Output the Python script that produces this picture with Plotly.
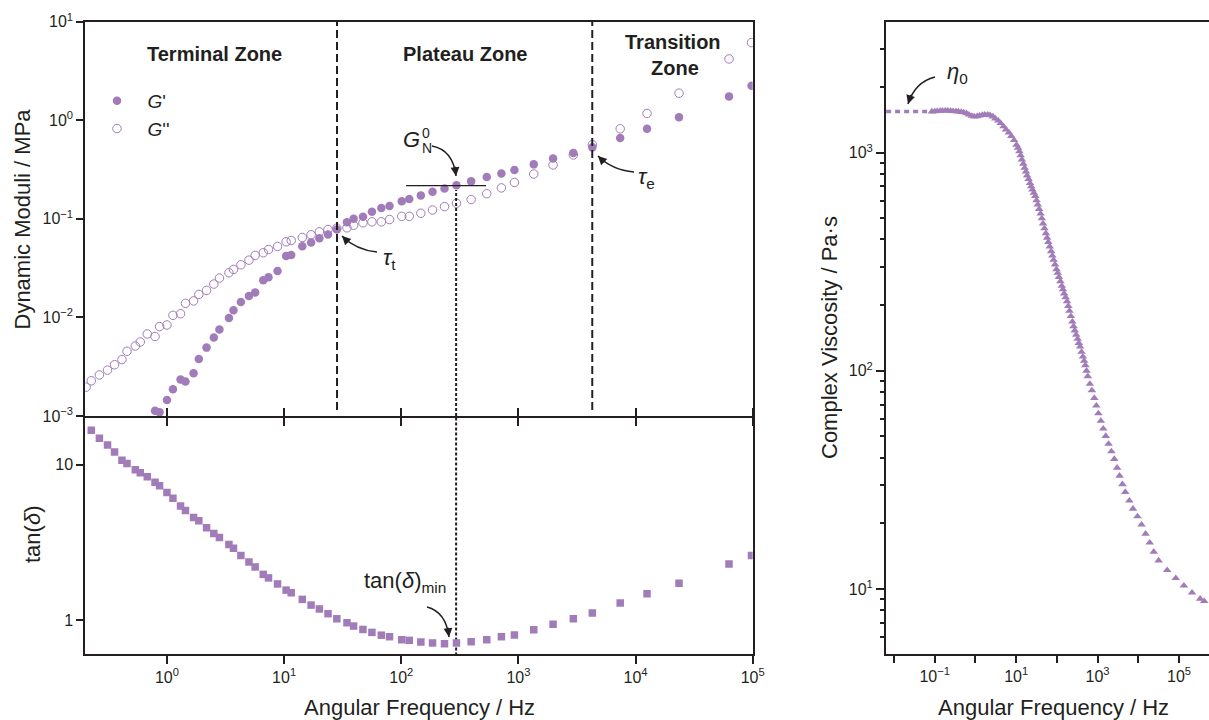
import plotly.graph_objects as go

# ---------------- data ----------------
freq_moduli = [0.204, 0.226, 0.265, 0.311, 0.357, 0.413, 0.456, 0.537, 0.592, 0.679,
               0.791, 0.865, 1.0, 1.125, 1.306, 1.439, 1.687, 1.871, 2.178, 2.512,
               2.805, 3.381, 3.698, 4.276, 5.012, 5.662, 6.637, 7.362, 8.79, 10.4,
               11.5, 14.3, 17.0, 20.0, 23.7, 28.2, 34.4, 39.2, 47.1, 56.2,
               67.6, 79.4, 101, 117, 147, 185, 234, 296, 395, 537,
               716, 925, 1352, 1977, 2944, 4276, 7396, 12530, 23500, 62800, 97700]

g_storage = [None, None, None, None, None, None, None, None, None, None,
             0.00113, 0.00109, 0.00145, 0.00187, 0.00234, 0.00224, 0.00272, 0.00379, 0.00494, 0.00624,
             0.00753, 0.00986, 0.0118, 0.0143, 0.0165, 0.0179, 0.0238, 0.0256, 0.0295, 0.0419,
             0.0429, 0.0528, 0.0575, 0.0637, 0.0693, 0.0780, 0.0925, 0.100, 0.105, 0.118,
             0.129, 0.135, 0.151, 0.159, 0.173, 0.188, 0.203, 0.219, 0.240, 0.266,
             0.288, 0.313, 0.357, 0.410, 0.466, 0.531, 0.661, 0.820, 1.076, 1.742, 2.234]

g_loss = [0.00196, 0.00228, 0.00261, 0.00292, 0.00331, 0.00374, 0.00454, 0.00513, 0.00564, 0.00679,
          0.00640, 0.00807, 0.00838, 0.0105, 0.0109, 0.0139, 0.0147, 0.0171, 0.0188, 0.0218,
          0.0251, 0.0284, 0.0307, 0.0342, 0.0381, 0.0426, 0.0453, 0.0489, 0.0525, 0.0585,
          0.0603, 0.0647, 0.0689, 0.0738, 0.0780, 0.0804, 0.0811, 0.0861, 0.0912, 0.0933,
          0.0933, 0.0984, 0.106, 0.106, 0.114, 0.123, 0.133, 0.144, 0.157, 0.180,
          0.206, 0.234, 0.285, 0.352, 0.445, 0.565, 0.820, 1.172, 1.884, 4.188, 6.138]

tan_delta = [None, 16.7, 14.8, 13.4, 12.1, 10.7, 10.2, 9.29, 8.89, 8.38,
             7.71, 7.33, 6.64, 6.08, 5.43, 5.07, 4.57, 4.36, 3.93, 3.61,
             3.40, 3.07, 2.90, 2.61, 2.37, 2.20, 1.97, 1.87, 1.71, 1.56,
             1.50, 1.36, 1.25, 1.18, 1.10, 1.02, 0.962, 0.916, 0.871, 0.834,
             0.800, 0.782, 0.748, 0.741, 0.723, 0.713, 0.705, 0.713, 0.726, 0.748,
             0.782, 0.802, 0.867, 0.942, 1.02, 1.11, 1.29, 1.48, 1.73, 2.30, 2.61]

freq_eta = [0.0851, 0.100, 0.115, 0.135, 0.155, 0.182, 0.209, 0.245, 0.282, 0.331,
            0.380, 0.447, 0.513, 0.603, 0.692, 0.813, 0.933, 1.10, 1.26, 1.48,
            1.70, 2.00, 2.29, 2.69, 3.09, 3.63, 4.17, 4.90, 5.62, 6.61,
            7.59, 8.91, 10.2, 11.1, 12.0, 12.9, 13.8, 15.0, 16.2, 17.4,
            18.6, 20.2, 21.9, 23.4, 25.1, 27.2, 29.5, 31.6, 33.9, 36.7,
            39.8, 42.7, 45.7, 49.5, 53.7, 57.5, 61.7, 66.8, 72.4, 77.6,
            83.2, 90.2, 97.7, 105, 112, 122, 132, 141, 151, 164,
            178, 191, 204, 221, 240, 257, 275, 299, 324, 347,
            372, 403, 437, 468, 501, 537, 575, 646, 724, 832,
            933, 1047, 1202, 1380, 1585, 1862, 2188, 2570, 3020, 3467,
            4074, 4786, 6026, 7413, 9550, 12000, 15100, 19100, 24000, 31600,
            51300, 83200, 132000, 209000, 331000, 417000]

eta_complex = [1542, 1545, 1549, 1552, 1556, 1556, 1556, 1552, 1549, 1545,
               1542, 1535, 1528, 1514, 1493, 1472, 1462, 1466, 1476, 1486,
               1493, 1493, 1483, 1462, 1432, 1400, 1365, 1318, 1276, 1236,
               1191, 1140, 1084, 1050, 1012, 971, 929, 889, 851, 818,
               785, 755, 724, 700, 676, 653, 631, 604, 578, 551,
               525, 499, 473, 449, 427, 407, 389, 371, 353, 337,
               322, 307, 292, 281, 269, 257, 245, 236, 226, 217,
               208, 198, 188, 178, 168, 160, 153, 146, 140, 134,
               129, 122, 116, 111, 106, 100, 94.4, 87.1, 81.3, 75.0,
               69.2, 63.8, 58.9, 54.3, 50.2, 46.2, 42.7, 39.4, 35.9, 33.0,
               30.2, 27.8, 25.4, 23.3, 21.5, 19.7, 17.9, 16.3, 14.8, 13.5,
               12.2, 11.2, 10.35, 9.62, 9.02, 8.79]

# reference quantities marked on the chart
tau_t_freq = 28.3
tau_e_freq = 4270
gn0_freq = 294
gn0_value = 0.217
gn0_line_freq = [110, 530]
eta0_value = 1542
eta0_line_freq = [0.0064, 0.0851]

# tick labels
left_x_ticks = [1, 10, 100, 1000, 10000, 100000]
left_x_text = ["10<sup>0</sup>", "10<sup>1</sup>", "10<sup>2</sup>", "10<sup>3</sup>",
               "10<sup>4</sup>", "10<sup>5</sup>"]
mod_y_ticks = [0.001, 0.01, 0.1, 1, 10]
mod_y_text = ["10<sup>−3</sup>", "10<sup>−2</sup>", "10<sup>−1</sup>", "10<sup>0</sup>", "10<sup>1</sup>"]
tan_y_ticks = [1, 10]
tan_y_text = ["1", "10"]
eta_x_ticks = [0.01, 0.1, 1, 10, 100, 1000, 10000, 100000]
eta_x_text = ["", "10<sup>−1</sup>", "", "10<sup>1</sup>", "", "10<sup>3</sup>", "", "10<sup>5</sup>"]
eta_y_ticks = [10, 100, 1000]
eta_y_text = ["10<sup>1</sup>", "10<sup>2</sup>", "10<sup>3</sup>"]
eta_y_minor = [6, 7, 8, 9, 20, 30, 40, 50, 60, 70, 80, 90,
               200, 300, 400, 500, 600, 700, 800, 900, 2000, 3000]

# ---------------- styling ----------------
W, H = 1209, 720
def px(x):
    return x / W
def py(y):
    return 1 - y / H

PURPLE = "#a17cb9"
INK = "#231f20"
FONT = "Liberation Sans, Arial, Helvetica, sans-serif"
NB = "\u00a0"

fig = go.Figure()

# top-left: dynamic moduli
fig.add_trace(go.Scatter(x=freq_moduli, y=g_storage, mode="markers", name=NB * 2 + "<i>G</i>'",
                         marker=dict(symbol="circle", size=8.5, color=PURPLE),
                         xaxis="x", yaxis="y"))
fig.add_trace(go.Scatter(x=freq_moduli, y=g_loss, mode="markers", name=NB * 2 + "<i>G</i>''",
                         marker=dict(symbol="circle-open", size=8.5, color=PURPLE,
                                     line=dict(width=1.0, color=PURPLE)),
                         xaxis="x", yaxis="y"))

# reference lines (top)
for f in (tau_t_freq, tau_e_freq):
    fig.add_trace(go.Scatter(x=[f, f], y=[0.00115, 10], mode="lines", showlegend=False,
                             line=dict(color=INK, width=2, dash="8px,4px"),
                             xaxis="x", yaxis="y", hoverinfo="skip"))
fig.add_trace(go.Scatter(x=[gn0_freq, gn0_freq], y=[0.001, 0.196], mode="lines", showlegend=False,
                         line=dict(color=INK, width=2, dash="3px,2px"),
                         xaxis="x", yaxis="y", hoverinfo="skip"))
fig.add_trace(go.Scatter(x=gn0_line_freq, y=[gn0_value, gn0_value], mode="lines", showlegend=False,
                         line=dict(color=INK, width=1.2),
                         xaxis="x", yaxis="y", hoverinfo="skip"))

# bottom-left: tan delta
fig.add_trace(go.Scatter(x=[gn0_freq, gn0_freq], y=[0.55, 25], mode="lines", showlegend=False,
                         line=dict(color=INK, width=2, dash="3px,2px"),
                         xaxis="x2", yaxis="y2", hoverinfo="skip"))
fig.add_trace(go.Scatter(x=freq_moduli, y=tan_delta, mode="markers", showlegend=False,
                         marker=dict(symbol="square", size=7.5, color=PURPLE),
                         xaxis="x2", yaxis="y2"))

# right: complex viscosity
fig.add_trace(go.Scatter(x=eta0_line_freq, y=[eta0_value, eta0_value], mode="lines", showlegend=False,
                         line=dict(color=PURPLE, width=3.5, dash="5px,4px"),
                         xaxis="x3", yaxis="y3", hoverinfo="skip"))
fig.add_trace(go.Scatter(x=freq_eta, y=eta_complex, mode="markers", showlegend=False,
                         marker=dict(symbol="triangle-up", size=7.5, color=PURPLE),
                         xaxis="x3", yaxis="y3"))

axis_common = dict(type="log", showgrid=False, zeroline=False, showline=True,
                   linecolor=INK, linewidth=2, tickcolor=INK, tickwidth=2,
                   ticks="outside", automargin=False,
                   tickfont=dict(family=FONT, size=16, color=INK))

LX = [px(85.3), px(752.7)]
RX = [px(886), 1.0]
TOPY = [py(416), py(21.7)]
BOTY = [py(654), py(418)]

fig.update_layout(
    xaxis=dict(axis_common, domain=LX, anchor="y", range=[-0.697, 5.0],
               tickmode="array", tickvals=left_x_ticks, showticklabels=False,
               ticklen=8, mirror=True),
    yaxis=dict(axis_common, domain=TOPY, anchor="x", range=[-3, 1],
               tickmode="array", tickvals=mod_y_ticks, ticktext=mod_y_text,
               ticklen=7, mirror=True),
    xaxis2=dict(axis_common, domain=LX, anchor="y2", range=[-0.697, 5.0],
                tickmode="array", tickvals=left_x_ticks, ticktext=left_x_text,
                ticklen=8, mirror="ticks"),
    yaxis2=dict(axis_common, domain=BOTY, anchor="x2", range=[-0.218, 1.301],
                tickmode="array", tickvals=tan_y_ticks, ticktext=tan_y_text,
                ticklen=7, mirror=True),
    xaxis3=dict(axis_common, domain=RX, anchor="y3", range=[-2.197, 5.737],
                tickmode="array", tickvals=eta_x_ticks, ticktext=eta_x_text,
                ticklen=7, mirror=True),
    yaxis3=dict(axis_common, domain=[py(654), py(21.7)], anchor="x3",
                range=[0.702, 3.6],
                tickmode="array", tickvals=eta_y_ticks, ticktext=eta_y_text,
                ticklen=8,
                minor=dict(tickmode="array", tickvals=eta_y_minor, ticks="outside",
                           ticklen=4, tickwidth=1.5, tickcolor=INK, showgrid=False)),
    width=W, height=H,
    margin=dict(l=0, r=0, t=0, b=0),
    paper_bgcolor="white", plot_bgcolor="white",
    font=dict(family=FONT, color=INK),
    showlegend=True,
    legend=dict(x=px(97), y=py(82), xanchor="left", yanchor="top",
                bgcolor="rgba(0,0,0,0)", font=dict(family=FONT, size=19, color=INK),
                tracegroupgap=0, itemwidth=30),
)

ann = []
def text(x, y, t, size=20, xanchor="center", yanchor="middle", angle=0):
    ann.append(dict(x=px(x), y=py(y), xref="paper", yref="paper", text=t, showarrow=False,
                    xanchor=xanchor, yanchor=yanchor, textangle=angle,
                    font=dict(family=FONT, size=size, color=INK)))

# zone labels
text(214, 54, "<b>Terminal Zone</b>")
text(465, 54, "<b>Plateau Zone</b>")
text(673, 42, "<b>Transition</b>")
text(675, 68, "<b>Zone</b>")

# axis titles
text(22, 219.5, "Dynamic Moduli / MPa", size=22, angle=-90)
text(32, 535, "tan(<i>δ</i>)", size=22, angle=-90)
text(829, 338, "Complex Viscosity / Pa·s", size=22, angle=-90)
text(419, 707, "Angular Frequency / Hz", size=22)
text(1053, 707, "Angular Frequency / Hz", size=22)

# symbols
text(381, 259, "<i>τ</i><sub>t</sub>", size=22, xanchor="left")
text(636, 178, "<i>τ</i><sub>e</sub>", size=22, xanchor="left")
text(411, 140, "<i>G</i>", size=22)
text(425.5, 133, "0", size=14)
text(426.5, 148, "N", size=14)
text(362, 582, "tan(<i>δ</i>)<sub>min</sub>", size=22, xanchor="left")
text(945, 73, "<i>η</i><sub>0</sub>", size=22, xanchor="left")

# curved arrows: (tail, control, head) in pixels
arrows = [
    ((377, 252), (356, 250), (342, 236)),
    ((634, 172), (612, 170), (598, 156)),
    ((432, 146), (453, 150), (456, 176)),
    ((427, 607), (446, 612), (449, 637)),
    ((935, 77), (915, 82), (908, 104)),
]
shapes = []
for (t, c, h) in arrows:
    shapes.append(dict(type="path", xref="paper", yref="paper",
                       path=f"M {px(t[0])},{py(t[1])} Q {px(c[0])},{py(c[1])} {px(h[0])},{py(h[1])}",
                       line=dict(color=INK, width=1.5)))
    dx, dy = c[0] - h[0], c[1] - h[1]
    n = (dx * dx + dy * dy) ** 0.5
    ann.append(dict(x=px(h[0]), y=py(h[1]), xref="paper", yref="paper", text="",
                    showarrow=True, ax=dx / n * 11, ay=dy / n * 11,
                    arrowhead=2, arrowsize=1.1, arrowwidth=1.6, arrowcolor=INK, standoff=0))

fig.update_layout(annotations=ann, shapes=shapes)

fig.write_html("out.html")
